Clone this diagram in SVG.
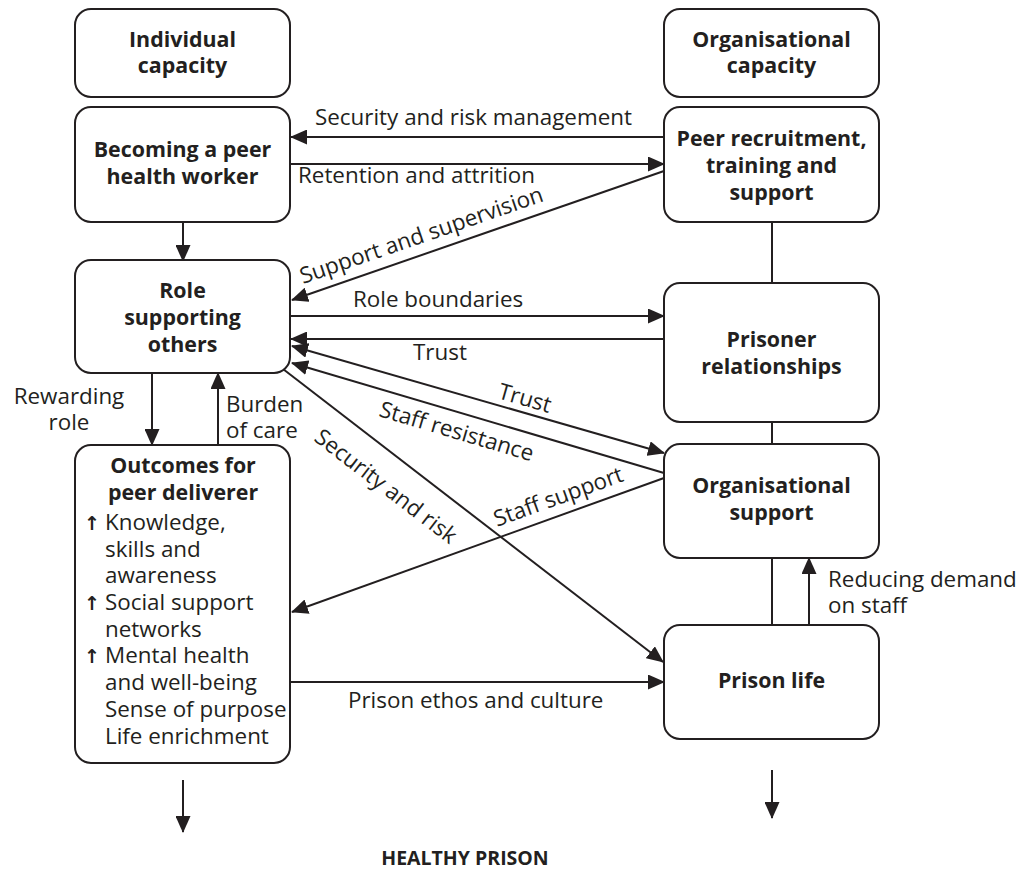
<svg xmlns="http://www.w3.org/2000/svg" width="1025" height="875" viewBox="0 0 1025 875">
<style>
.box{fill:#fff;stroke:#231f20;stroke-width:2}
.b{font-family:"Open Sans","Noto Sans",sans-serif;font-weight:bold;font-size:21.4px;fill:#231f20;text-anchor:middle}
.t{font-family:"Open Sans","Noto Sans",sans-serif;font-size:22.4px;fill:#231f20}
.c{stroke:#231f20;stroke-width:2;fill:none}
.a{marker-end:url(#ah)}
.ar{font-family:"DejaVu Sans",sans-serif;font-size:19px;font-weight:bold;fill:#231f20}
</style>
<defs>
<marker id="ah" markerWidth="17" markerHeight="15" refX="16" refY="7.5" orient="auto-start-reverse" markerUnits="userSpaceOnUse"><path d="M0,0 L17,7.5 L0,15 z" fill="#231f20"/></marker>
</defs>
<rect width="1025" height="875" fill="#fff"/>
<g id="connectors">
<line class="c a" x1="183" y1="222" x2="183" y2="261"/>
<line class="c a" x1="664" y1="137" x2="291" y2="137"/>
<line class="c a" x1="291" y1="164" x2="664" y2="164"/>
<line class="c a" x1="664" y1="171" x2="292" y2="300"/>
<line class="c a" x1="291" y1="316" x2="664" y2="316"/>
<line class="c a" x1="664" y1="339" x2="291" y2="339"/>
<line class="c a" x1="292" y1="346" x2="664" y2="453" marker-start="url(#ah)"/>
<line class="c a" x1="664" y1="473" x2="292" y2="363"/>
<line class="c a" x1="283" y1="369" x2="663" y2="662"/>
<line class="c a" x1="664" y1="478" x2="292" y2="612"/>
<line class="c a" x1="291" y1="682" x2="664" y2="682"/>
<line class="c a" x1="152" y1="373" x2="152" y2="445"/>
<line class="c a" x1="218" y1="445" x2="218" y2="373"/>
<line class="c" x1="772" y1="222" x2="772" y2="283"/>
<line class="c" x1="772" y1="422" x2="772" y2="444"/>
<line class="c" x1="772" y1="558" x2="772" y2="625"/>
<line class="c a" x1="809" y1="625" x2="809" y2="558"/>
<line class="c a" x1="183" y1="780" x2="183" y2="832"/>
<line class="c a" x1="772" y1="770" x2="772" y2="818"/>
<text class="t" x="315" y="125">Security and risk management</text>
<text class="t" x="298" y="183">Retention and attrition</text>
<text class="t" transform="translate(303,284) rotate(-19)">Support and supervision</text>
<text class="t" x="353" y="307">Role boundaries</text>
<text class="t" x="413" y="360">Trust</text>
<text class="t" transform="translate(497,398) rotate(16)">Trust</text>
<text class="t" transform="translate(378,416) rotate(16.5)">Staff resistance</text>
<text class="t" transform="translate(313,440) rotate(37.5)">Security and risk</text>
<text class="t" transform="translate(497,527) rotate(-19.9)">Staff support</text>
<text class="t" x="348" y="708">Prison ethos and culture</text>
<text class="t" text-anchor="middle" x="69" y="404">Rewarding</text>
<text class="t" text-anchor="middle" x="69" y="430">role</text>
<text class="t" x="226" y="412">Burden</text>
<text class="t" x="226" y="438">of care</text>
<text class="t" x="828" y="587">Reducing demand</text>
<text class="t" x="828" y="613">on staff</text>
</g>
<g id="individual-capacity">
<rect class="box" x="75" y="9" width="215" height="88" rx="16"/>
<text class="b" x="182.5" y="47">Individual</text>
<text class="b" x="182.5" y="73">capacity</text>
</g>
<g id="organisational-capacity">
<rect class="box" x="664" y="9" width="215" height="88" rx="16"/>
<text class="b" x="771.5" y="47">Organisational</text>
<text class="b" x="771.5" y="73">capacity</text>
</g>
<g id="becoming-peer">
<rect class="box" x="75" y="107" width="215" height="115" rx="16"/>
<text class="b" x="182.5" y="157">Becoming a peer</text>
<text class="b" x="182.5" y="184">health worker</text>
</g>
<g id="peer-recruitment">
<rect class="box" x="664" y="107" width="215" height="115" rx="16"/>
<text class="b" x="771.5" y="146">Peer recruitment,</text>
<text class="b" x="771.5" y="173">training and</text>
<text class="b" x="771.5" y="200">support</text>
</g>
<g id="role-supporting">
<rect class="box" x="75" y="260" width="215" height="113" rx="16"/>
<text class="b" x="182.5" y="298">Role</text>
<text class="b" x="182.5" y="325">supporting</text>
<text class="b" x="182.5" y="352">others</text>
</g>
<g id="prisoner-relationships">
<rect class="box" x="664" y="283" width="215" height="139" rx="16"/>
<text class="b" x="771.5" y="347">Prisoner</text>
<text class="b" x="771.5" y="374">relationships</text>
</g>
<g id="organisational-support">
<rect class="box" x="664" y="444" width="215" height="114" rx="16"/>
<text class="b" x="771.5" y="493">Organisational</text>
<text class="b" x="771.5" y="520">support</text>
</g>
<g id="prison-life">
<rect class="box" x="664" y="625" width="215" height="114" rx="16"/>
<text class="b" x="771.5" y="688">Prison life</text>
</g>
<g id="outcomes">
<rect class="box" x="75" y="445" width="215" height="318" rx="16"/>
<text class="b" x="183" y="473">Outcomes for</text>
<text class="b" x="183" y="500">peer deliverer</text>
<text class="ar" x="84" y="530">↑</text>
<text class="t" x="105" y="530">Knowledge,</text>
<text class="t" x="105" y="557">skills and</text>
<text class="t" x="105" y="583">awareness</text>
<text class="ar" x="84" y="610">↑</text>
<text class="t" x="105" y="610">Social support</text>
<text class="t" x="105" y="637">networks</text>
<text class="ar" x="84" y="663">↑</text>
<text class="t" x="105" y="663">Mental health</text>
<text class="t" x="105" y="690">and well-being</text>
<text class="t" x="105" y="717">Sense of purpose</text>
<text class="t" x="105" y="744">Life enrichment</text>
</g>
<g id="healthy-prison">
<text class="b" x="465" y="865" style="font-size:19.5px">HEALTHY PRISON</text>
</g>
</svg>
